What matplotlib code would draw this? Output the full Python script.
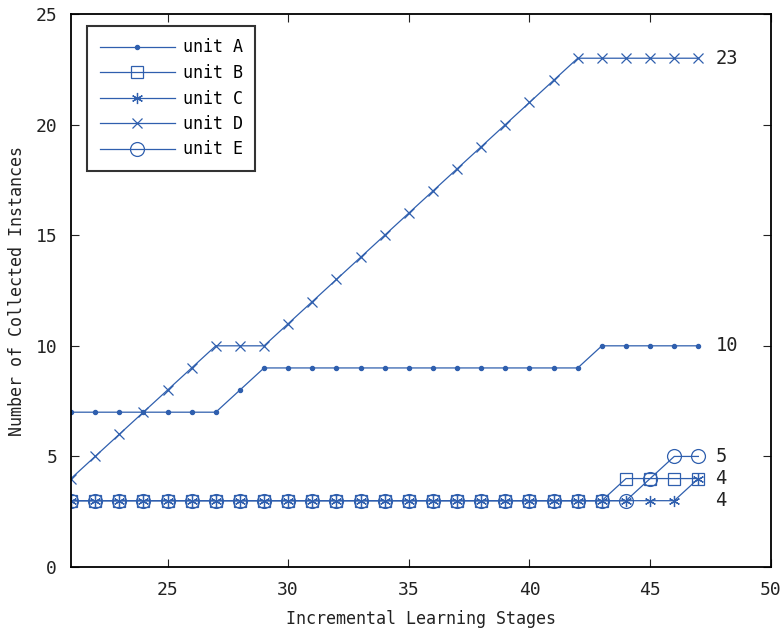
import matplotlib
matplotlib.use("Agg")
import matplotlib.pyplot as plt

stages = list(range(21, 48))
unit_a = [7, 7, 7, 7, 7, 7, 7, 8, 9, 9, 9, 9, 9, 9, 9, 9, 9, 9, 9, 9, 9, 9, 10, 10, 10, 10, 10]
unit_b = [3] * 23 + [4, 4, 4, 4]
unit_c = [3] * 26 + [4]
unit_d = [4, 5, 6, 7, 8, 9, 10, 10, 10, 11, 12, 13, 14, 15, 16, 17, 18, 19, 20, 21, 22, 23, 23, 23, 23, 23, 23]
unit_e = [3] * 24 + [4, 5, 5]
labels = ["unit A", "unit B", "unit C", "unit D", "unit E"]
end_labels = ["10", "4", "4", "23", "5"]
end_label_y = [10, 4, 3, 23, 5]

plt.rcParams['font.family'] = ['DejaVu Sans Mono', 'DejaVu Sans']
color = "#2f5fae"
tcol = '#222222'

fig = plt.figure(figsize=(7.81, 6.35), dpi=100)
ax = fig.add_axes([0.0909, 0.107, 0.896, 0.871])

series = [unit_a, unit_b, unit_c, unit_d, unit_e]
markers = [dict(marker='o', ms=3),
           dict(marker='s', ms=8.2, mfc='none'),
           dict(marker=(6, 2, 0), ms=8),
           dict(marker='x', ms=7.5),
           dict(marker='o', ms=10, mfc='none')]
for s, lab, mk in zip(series, labels, markers):
    ms = mk.pop('ms')
    ax.plot(stages, s, color=color, lw=0.9, label=lab, markersize=ms,
            markeredgewidth=0.9, **mk)

for t, y in zip(end_labels, end_label_y):
    ax.text(47.7, y, t, fontsize=13.5, va='center', ha='left', color=tcol)

ax.set_xlim(21, 50)
ax.set_ylim(0, 25)
ax.set_xticks([25, 30, 35, 40, 45, 50])
ax.set_yticks([0, 5, 10, 15, 20, 25])
ax.tick_params(direction='in', top=True, right=True, labelsize=13, length=6,
               pad=10, colors=tcol)
for sp in ax.spines.values():
    sp.set_linewidth(1.3)
ax.set_xlabel("Incremental Learning Stages", fontsize=12, labelpad=8, color=tcol)
ax.set_ylabel("Number of Collected Instances", fontsize=12, labelpad=7, color=tcol)

leg = ax.legend(loc='upper left', fontsize=12, frameon=True, fancybox=False,
                edgecolor='black', handlelength=4.5, handletextpad=0.5,
                borderpad=0.75, labelspacing=0.45, bbox_to_anchor=(0.0, 1.0),
                borderaxespad=0.0)
leg.set_bbox_to_anchor((87 / 781, (635 - 26) / 635), transform=fig.transFigure)
leg.get_frame().set_linewidth(1.5)

fig.savefig("out.png", dpi=100)
